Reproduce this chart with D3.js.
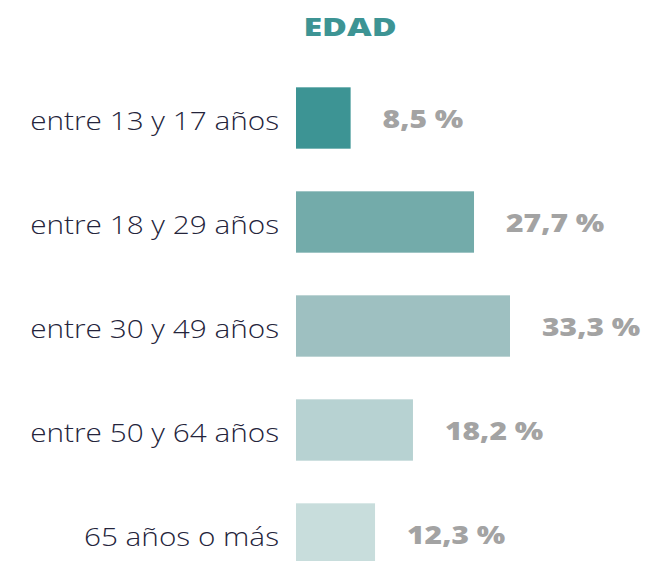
<!DOCTYPE html>
<html>
<head>
<meta charset="utf-8">
<script src="https://cdn.jsdelivr.net/npm/d3@7"></script>
<style>
  body { margin: 0; background: #fff; }
  svg { display: block; }
</style>
</head>
<body>
<div id="chart"></div>
<script>
    // data
    var categories = ['entre 13 y 17 años', 'entre 18 y 29 años', 'entre 30 y 49 años', 'entre 50 y 64 años', '65 años o más'];
    var values = [8.5, 27.7, 33.3, 18.2, 12.3];
    var valueLabels = ['8,5 %', '27,7 %', '33,3 %', '18,2 %', '12,3 %'];
    var barColors = ['#3d9494', '#73abaa', '#9ec0c1', '#b7d2d2', '#c8dddc'];

    var width = 647,
        height = 561;

    var svg = d3.select('#chart')
        .append('svg')
            .attr('width', width)
            .attr('height', height)

    var xScale = d3.scaleLinear()
        .domain([0, d3.max(values)])
        .range([296, 510])

    var yScale = d3.scaleBand()
        .domain(d3.range(0, categories.length))
        .range([66, 586])
        .paddingInner(0.41)
        .paddingOuter(0.205)

    // the original font is wide (Montserrat-like), so stretch a bit horizontally
    svg.append('text')
        .attr('transform', 'translate(350, 26) scale(1.36, 1)')
        .attr('text-anchor', 'middle')
        .attr('dominant-baseline', 'central')
        .style('font-family', 'Open Sans')
        .style('font-weight', 800)
        .style('font-size', '25px')
        .style('fill', '#3d9494')
        .text('EDAD')

    svg.selectAll('rect.bar').data(values)
        .enter().append('rect')
            .attr('class', 'bar')
            .attr('x', xScale(0))
            .attr('y', function(d, i) { return yScale(i); })
            .attr('width', function(d) { return xScale(d) - xScale(0); })
            .attr('height', yScale.bandwidth())
            .style('fill', function(d, i) { return barColors[i]; })

    svg.selectAll('text.cat').data(categories)
        .enter().append('text')
            .attr('class', 'cat')
            .attr('transform', function(d, i) {
                return 'translate(279, ' + (yScale(i) + yScale.bandwidth() / 2 + 2) + ') scale(1.19, 1)';
            })
            .attr('text-anchor', 'end')
            .attr('dominant-baseline', 'central')
            .style('font-family', 'Open Sans')
            .style('font-weight', 300)
            .style('font-size', '25px')
            .style('fill', '#24243b')
            .text(function(d) { return d; })

    svg.selectAll('text.val').data(values)
        .enter().append('text')
            .attr('class', 'val')
            .attr('transform', function(d, i) {
                return 'translate(' + (xScale(d) + 32) + ', ' + (yScale(i) + yScale.bandwidth() / 2) + ') scale(1.2, 1)';
            })
            .attr('dominant-baseline', 'central')
            .style('font-family', 'Open Sans')
            .style('font-weight', 800)
            .style('font-size', '25px')
            .style('fill', '#a3a3a3')
            .text(function(d, i) { return valueLabels[i]; })
</script>
</body>
</html>
